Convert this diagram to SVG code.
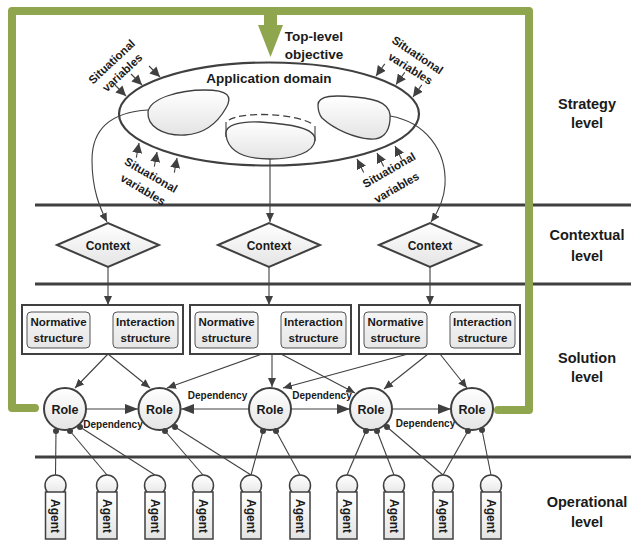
<svg xmlns="http://www.w3.org/2000/svg" width="631" height="541" viewBox="0 0 631 541">
<style>
.t{font-family:"Liberation Sans",Arial,sans-serif;font-weight:bold;fill:#1a1a1a;text-anchor:middle}
.lvl{font-size:14.5px}
.sv{font-size:11.5px}
.dep{font-size:10px}
.st{font-size:11.5px}
.ln{stroke:#404040;stroke-width:1.1;fill:none}
.sep{stroke:#404040;stroke-width:3}
.blob{fill:url(#gf);stroke:#404040;stroke-width:1.3}
.box{fill:#fff;stroke:#404040;stroke-width:2}
.inner{fill:url(#gs);stroke:#555;stroke-width:1}
.dia{fill:url(#gf);stroke:#404040;stroke-width:2}
.role{fill:url(#gf);stroke:#404040;stroke-width:2}
.ag{fill:url(#gf);stroke:#404040;stroke-width:1.5}
.dot{fill:#404040}
</style>
<defs>
<linearGradient id="gf" x1="0" y1="0" x2="0" y2="1"><stop offset="0" stop-color="#ffffff"/><stop offset="1" stop-color="#e4e4e4"/></linearGradient>
<linearGradient id="gs" x1="0" y1="0" x2="0" y2="1"><stop offset="0" stop-color="#f6f6f6"/><stop offset="1" stop-color="#e6e6e6"/></linearGradient>
<marker id="ah" markerUnits="userSpaceOnUse" markerWidth="10" markerHeight="8" refX="9" refY="4" orient="auto"><path d="M0,0 L9,4 L0,8 z" fill="#404040"/></marker>
<marker id="ahV" markerUnits="userSpaceOnUse" markerWidth="11" markerHeight="10" refX="10" refY="5" orient="auto"><path d="M0,0 L10,5 L0,10 z" fill="#404040"/></marker>
<marker id="ahL" markerUnits="userSpaceOnUse" markerWidth="14" markerHeight="10" refX="13" refY="5" orient="auto"><path d="M0,0 L13,5 L0,10 z" fill="#404040"/></marker>
<marker id="ahS" markerUnits="userSpaceOnUse" markerWidth="7" markerHeight="6" refX="6" refY="3" orient="auto-start-reverse"><path d="M0,0 L6,3 L0,6 z" fill="#404040"/></marker>
</defs>
<rect width="631" height="541" fill="#fff"/>

<g id="separators">
<line class="sep" x1="35" y1="205" x2="631" y2="205"/>
<line class="sep" x1="35" y1="284" x2="631" y2="284"/>
<line class="sep" x1="35" y1="457" x2="631" y2="457"/>
</g>

<g id="frame">
<path d="M35,408 H12 V11 H529 V410 H498" fill="none" stroke="#8fa64e" stroke-width="8" stroke-linecap="round" stroke-linejoin="round"/>
<polygon points="264,11 277,11 277,25 283,25 270.5,57 258,25 264,25" fill="#8fa64e"/>
</g>

<g id="top-objective">
<text class="t" font-size="13.5" x="314" y="40.5">Top-level</text>
<text class="t" font-size="13.5" x="314" y="58.5">objective</text>
</g>

<g id="application-domain">
<ellipse cx="269" cy="114" rx="150" ry="51.5" fill="none" stroke="#404040" stroke-width="2.2"/>
<text class="t" font-size="13.5" x="269" y="83">Application domain</text>
<path class="blob" d="M148,112 C150,98 180,90 205,90 C228,90 233,96 226,108 C218,122 205,134 185,135 C162,136 147,126 148,112 Z"/>
<path class="blob" d="M226,135 C224,125 240,121 260,122 C290,124 316,128 315,140 C314,152 295,159 270,159 C240,159 228,150 226,135 Z"/>
<path d="M226,122 V137 M315,126 V141" class="ln" stroke-width="1.3"/>
<path d="M229,120 C240,112 295,112 314,125" fill="none" stroke="#404040" stroke-width="1.3" stroke-dasharray="7,4"/>
<path class="blob" d="M318,105 C318,95 335,95 355,97 C380,99 392,105 390,120 C389,133 382,140 370,139 C355,138 335,130 322,118 C318,113 318,109 318,105 Z"/>
</g>

<g id="situational-variables">
<line class="ln" x1="115" y1="85" x2="126" y2="96" marker-end="url(#ahV)"/>
<line class="ln" x1="131" y1="74" x2="142" y2="85" marker-end="url(#ahV)"/>
<line class="ln" x1="149" y1="66" x2="160" y2="77" marker-end="url(#ahV)"/>
<text class="t sv" transform="translate(114.4,64.6) rotate(-43)">Situational</text>
<text class="t sv" transform="translate(125,75.5) rotate(-43)">variables</text>

<line class="ln" x1="384.8" y1="63.9" x2="376" y2="76" marker-end="url(#ahV)"/>
<line class="ln" x1="404.8" y1="72.4" x2="396" y2="84.5" marker-end="url(#ahV)"/>
<line class="ln" x1="421.8" y1="84.9" x2="413" y2="97" marker-end="url(#ahV)"/>
<text class="t sv" transform="translate(415.3,58.4) rotate(34)">Situational</text>
<text class="t sv" transform="translate(408.3,71.9) rotate(32)">variables</text>

<line class="ln" x1="136.3" y1="157.7" x2="139" y2="143" marker-end="url(#ahV)"/>
<line class="ln" x1="154.3" y1="166.7" x2="157" y2="152" marker-end="url(#ahV)"/>
<line class="ln" x1="174.3" y1="172.7" x2="177" y2="158" marker-end="url(#ahV)"/>
<text class="t sv" transform="translate(149,178.5) rotate(30)">Situational</text>
<text class="t sv" transform="translate(141,193) rotate(31)">variables</text>

<line class="ln" x1="363.7" y1="172.4" x2="357" y2="159" marker-end="url(#ahV)"/>
<line class="ln" x1="383.7" y1="166.4" x2="377" y2="153" marker-end="url(#ahV)"/>
<line class="ln" x1="401.7" y1="159.4" x2="395" y2="146" marker-end="url(#ahV)"/>
<text class="t sv" transform="translate(391,173.5) rotate(-30)">Situational</text>
<text class="t sv" transform="translate(398.5,191) rotate(-30)">variables</text>
</g>

<g id="connectors">
<path class="ln" d="M148,110 C115,112 92,125 92,160 C92,190 100,208 107,222" marker-end="url(#ah)"/>
<path class="ln" d="M270,159 V222" marker-end="url(#ah)"/>
<path class="ln" d="M390,116 C425,122 447,150 445,185 C444,200 438,212 431,222" marker-end="url(#ah)"/>
<line class="ln" x1="108" y1="267" x2="108" y2="305" marker-end="url(#ah)"/>
<line class="ln" x1="269" y1="267" x2="269" y2="305" marker-end="url(#ah)"/>
<line class="ln" x1="430" y1="267" x2="430" y2="305" marker-end="url(#ah)"/>
<line class="ln" x1="91" y1="330" x2="112" y2="330" marker-start="url(#ahS)" marker-end="url(#ahS)"/>
<line class="ln" x1="259" y1="330" x2="280" y2="330" marker-start="url(#ahS)" marker-end="url(#ahS)"/>
<line class="ln" x1="428" y1="330" x2="449" y2="330" marker-start="url(#ahS)" marker-end="url(#ahS)"/>
<line class="ln" x1="108" y1="354" x2="75" y2="388" marker-end="url(#ah)"/>
<line class="ln" x1="108" y1="354" x2="150" y2="388" marker-end="url(#ah)"/>
<line class="ln" x1="262" y1="354" x2="167" y2="388" marker-end="url(#ah)"/>
<line class="ln" x1="272" y1="354" x2="272" y2="387" marker-end="url(#ah)"/>
<line class="ln" x1="281" y1="354" x2="355" y2="393" marker-end="url(#ah)"/>
<line class="ln" x1="408" y1="354" x2="283" y2="388" marker-end="url(#ah)"/>
<line class="ln" x1="428" y1="354" x2="384" y2="389" marker-end="url(#ah)"/>
<line class="ln" x1="440" y1="354" x2="467" y2="388" marker-end="url(#ah)"/>
<line class="ln" x1="86" y1="409" x2="138" y2="409" marker-end="url(#ahL)"/>
<line class="ln" x1="249" y1="409" x2="181" y2="409" marker-end="url(#ahL)"/>
<line class="ln" x1="291" y1="409" x2="350" y2="409" marker-end="url(#ahL)"/>
<line class="ln" x1="392" y1="409" x2="451" y2="409" marker-end="url(#ahL)"/>
<line class="ln" x1="56" y1="431" x2="55.5" y2="475"/>
<line class="ln" x1="70" y1="431" x2="107" y2="475"/>
<line class="ln" x1="80" y1="427" x2="155" y2="475"/>
<line class="ln" x1="165" y1="431" x2="203" y2="475"/>
<line class="ln" x1="175" y1="427" x2="251" y2="475"/>
<line class="ln" x1="263" y1="431" x2="251" y2="475"/>
<line class="ln" x1="276" y1="431" x2="300" y2="475"/>
<line class="ln" x1="366" y1="431" x2="347" y2="475"/>
<line class="ln" x1="377" y1="431" x2="394" y2="475"/>
<line class="ln" x1="387" y1="427" x2="443" y2="475"/>
<line class="ln" x1="468" y1="431" x2="443" y2="475"/>
<line class="ln" x1="482" y1="430" x2="491" y2="475"/>
<text class="t dep" x="113" y="428">Dependency</text>
<text class="t dep" x="217.5" y="399">Dependency</text>
<text class="t dep" x="322" y="399">Dependency</text>
<text class="t dep" x="425.5" y="427">Dependency</text>
</g>

<g id="context-1"><polygon class="dia" points="57,245 108,223 159,245 108,267"/><text class="t" font-size="12" x="108" y="249.5">Context</text></g>
<g id="context-2"><polygon class="dia" points="218,245 269,223 320,245 269,267"/><text class="t" font-size="12" x="269" y="249.5">Context</text></g>
<g id="context-3"><polygon class="dia" points="379,245 430,223 481,245 430,267"/><text class="t" font-size="12" x="430" y="249.5">Context</text></g>

<g id="structure-1">
<rect class="box" x="22" y="305" width="161" height="49"/>
<rect class="inner" x="27" y="312" width="63" height="36" rx="4"/>
<rect class="inner" x="113" y="312" width="65" height="36" rx="4"/>
<text class="t st" x="58.5" y="326">Normative</text><text class="t st" x="58.5" y="342">structure</text>
<text class="t st" x="145.5" y="326">Interaction</text><text class="t st" x="145.5" y="342">structure</text>
</g>
<g id="structure-2">
<rect class="box" x="190" y="305" width="161" height="49"/>
<rect class="inner" x="195" y="312" width="63" height="36" rx="4"/>
<rect class="inner" x="281" y="312" width="65" height="36" rx="4"/>
<text class="t st" x="226.5" y="326">Normative</text><text class="t st" x="226.5" y="342">structure</text>
<text class="t st" x="313.5" y="326">Interaction</text><text class="t st" x="313.5" y="342">structure</text>
</g>
<g id="structure-3">
<rect class="box" x="359" y="305" width="161" height="49"/>
<rect class="inner" x="364" y="312" width="63" height="36" rx="4"/>
<rect class="inner" x="450" y="312" width="65" height="36" rx="4"/>
<text class="t st" x="395.5" y="326">Normative</text><text class="t st" x="395.5" y="342">structure</text>
<text class="t st" x="482.5" y="326">Interaction</text><text class="t st" x="482.5" y="342">structure</text>
</g>

<g id="role-1"><circle class="role" cx="65" cy="409" r="21"/><text class="t" font-size="12.5" x="65" y="413.5">Role</text><circle class="dot" cx="56" cy="431" r="3"/><circle class="dot" cx="70" cy="431" r="3"/><circle class="dot" cx="80" cy="427" r="3"/></g>
<g id="role-2"><circle class="role" cx="159.5" cy="409" r="21"/><text class="t" font-size="12.5" x="159.5" y="413.5">Role</text><circle class="dot" cx="165" cy="431" r="3"/><circle class="dot" cx="175" cy="427" r="3"/></g>
<g id="role-3"><circle class="role" cx="270" cy="409" r="21"/><text class="t" font-size="12.5" x="270" y="413.5">Role</text><circle class="dot" cx="263" cy="431" r="3"/><circle class="dot" cx="276" cy="431" r="3"/></g>
<g id="role-4"><circle class="role" cx="371" cy="409" r="21"/><text class="t" font-size="12.5" x="371" y="413.5">Role</text><circle class="dot" cx="366" cy="431" r="3"/><circle class="dot" cx="377" cy="431" r="3"/><circle class="dot" cx="387" cy="427" r="3"/></g>
<g id="role-5"><circle class="role" cx="472" cy="409" r="21"/><text class="t" font-size="12.5" x="472" y="413.5">Role</text><circle class="dot" cx="468" cy="431" r="3"/><circle class="dot" cx="482" cy="430" r="3"/></g>

<g id="agent-1"><circle class="ag" cx="55.5" cy="485.5" r="10.5"/><rect class="ag" x="45.5" y="492" width="20" height="47"/><text class="t" font-size="12" transform="translate(55.5,516) rotate(90)" y="4.3">Agent</text></g>
<g id="agent-2"><circle class="ag" cx="107" cy="485.5" r="10.5"/><rect class="ag" x="97" y="492" width="20" height="47"/><text class="t" font-size="12" transform="translate(107,516) rotate(90)" y="4.3">Agent</text></g>
<g id="agent-3"><circle class="ag" cx="155" cy="485.5" r="10.5"/><rect class="ag" x="145" y="492" width="20" height="47"/><text class="t" font-size="12" transform="translate(155,516) rotate(90)" y="4.3">Agent</text></g>
<g id="agent-4"><circle class="ag" cx="203" cy="485.5" r="10.5"/><rect class="ag" x="193" y="492" width="20" height="47"/><text class="t" font-size="12" transform="translate(203,516) rotate(90)" y="4.3">Agent</text></g>
<g id="agent-5"><circle class="ag" cx="251" cy="485.5" r="10.5"/><rect class="ag" x="241" y="492" width="20" height="47"/><text class="t" font-size="12" transform="translate(251,516) rotate(90)" y="4.3">Agent</text></g>
<g id="agent-6"><circle class="ag" cx="300" cy="485.5" r="10.5"/><rect class="ag" x="290" y="492" width="20" height="47"/><text class="t" font-size="12" transform="translate(300,516) rotate(90)" y="4.3">Agent</text></g>
<g id="agent-7"><circle class="ag" cx="347" cy="485.5" r="10.5"/><rect class="ag" x="337" y="492" width="20" height="47"/><text class="t" font-size="12" transform="translate(347,516) rotate(90)" y="4.3">Agent</text></g>
<g id="agent-8"><circle class="ag" cx="394" cy="485.5" r="10.5"/><rect class="ag" x="384" y="492" width="20" height="47"/><text class="t" font-size="12" transform="translate(394,516) rotate(90)" y="4.3">Agent</text></g>
<g id="agent-9"><circle class="ag" cx="443" cy="485.5" r="10.5"/><rect class="ag" x="433" y="492" width="20" height="47"/><text class="t" font-size="12" transform="translate(443,516) rotate(90)" y="4.3">Agent</text></g>
<g id="agent-10"><circle class="ag" cx="491" cy="485.5" r="10.5"/><rect class="ag" x="481" y="492" width="20" height="47"/><text class="t" font-size="12" transform="translate(491,516) rotate(90)" y="4.3">Agent</text></g>

<g id="level-labels">
<text class="t lvl" x="587" y="108.5">Strategy</text><text class="t lvl" x="587" y="128">level</text>
<text class="t lvl" x="587" y="240">Contextual</text><text class="t lvl" x="587" y="260.5">level</text>
<text class="t lvl" x="587" y="362.5">Solution</text><text class="t lvl" x="587" y="381.5">level</text>
<text class="t lvl" x="587" y="506.5">Operational</text><text class="t lvl" x="587" y="526.5">level</text>
</g>
</svg>
